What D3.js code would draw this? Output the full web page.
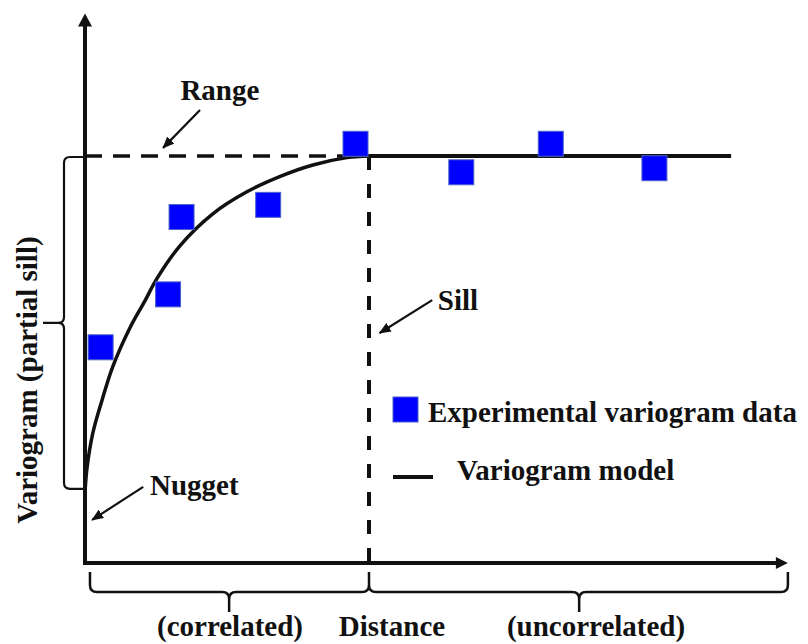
<!DOCTYPE html>
<html>
<head>
<meta charset="utf-8">
<script src="https://cdn.jsdelivr.net/npm/d3@7/dist/d3.min.js"></script>
<style>
  html, body { margin: 0; padding: 0; background: #fff; }
</style>
</head>
<body>
<svg id="chart"></svg>
<script>
// experimental variogram (lag distance, semivariance; sill = 1)
const lagDistance = [0.22, 1.17, 1.36, 2.58, 3.81, 5.30, 6.56, 8.02];
const semivariance = [0.53, 0.66, 0.85, 0.88, 1.03, 0.96, 1.03, 0.97];

// fitted model
const modelDistance = [0, 0.03, 0.11, 0.24, 0.39, 0.63, 0.85, 1.01, 1.34, 1.80, 2.28, 2.75, 3.21, 3.69, 4.0, 9.1];
const modelGamma = [0.175, 0.236, 0.319, 0.400, 0.482, 0.577, 0.646, 0.698, 0.780, 0.858, 0.912, 0.950, 0.978, 0.996, 1.0, 1.0];

const rangeDist = 4.0;
const sill = 1.0;
const nugget = 0.175;
const xEnd = 9.9;
const yEnd = 1.35;

const legendLabels = ["Experimental variogram data", "Variogram model"];
const bottomLabels = ["(correlated)", "Distance", "(uncorrelated)"];
const yLabel = "Variogram (partial sill)";

const width = 808, height = 644;
const svg = d3.select("#chart").attr("width", width).attr("height", height)
    .attr("font-family", "'Liberation Serif', 'Times New Roman', Tinos, 'DejaVu Serif', serif")
    .attr("font-weight", "bold");

const x = d3.scaleLinear().domain([0, 10]).range([85, 795]);
const y = d3.scaleLinear().domain([0, 1]).range([563, 156]);

const defs = svg.append("defs");
defs.append("marker")
    .attr("id", "head")
    .attr("markerUnits", "userSpaceOnUse")
    .attr("markerWidth", 12).attr("markerHeight", 10)
    .attr("refX", 11).attr("refY", 5)
    .attr("orient", "auto")
    .append("path").attr("d", "M0,0L12,5L0,10Z").attr("fill", "#111");

// axes with arrow heads
const x0 = x(0), y0 = y(0);
svg.append("line")
    .attr("x1", x0).attr("y1", y0 + 2).attr("x2", x0).attr("y2", y(yEnd) + 10)
    .attr("stroke", "#111").attr("stroke-width", 4);
svg.append("path")
    .attr("d", `M${x0},${y(yEnd)}L${x0 - 7},${y(yEnd) + 13}L${x0 + 7},${y(yEnd) + 13}Z`)
    .attr("fill", "#111");
svg.append("line")
    .attr("x1", x0 - 2).attr("y1", y0).attr("x2", x(xEnd) - 8).attr("y2", y0)
    .attr("stroke", "#111").attr("stroke-width", 4);
svg.append("path")
    .attr("d", `M${x(xEnd)},${y0}L${x(xEnd) - 12},${y0 - 6}L${x(xEnd) - 12},${y0 + 6}Z`)
    .attr("fill", "#111");

// range / sill guides
svg.append("line")
    .attr("x1", x0).attr("y1", y(sill)).attr("x2", x(rangeDist)).attr("y2", y(sill))
    .attr("stroke", "#111").attr("stroke-width", 3.5).attr("stroke-dasharray", "17,11");
svg.append("line")
    .attr("x1", x(rangeDist)).attr("y1", y(sill)).attr("x2", x(rangeDist)).attr("y2", y0)
    .attr("stroke", "#111").attr("stroke-width", 4).attr("stroke-dasharray", "14,14");

// model curve: smooth rise up to the range, then flat at the sill
const model = modelDistance.map((d, i) => [d, modelGamma[i]]);
const rising = model.filter(d => d[0] <= rangeDist);
const flat = model.filter(d => d[0] >= rangeDist);
svg.append("path")
    .datum(rising)
    .attr("fill", "none")
    .attr("stroke", "#111")
    .attr("stroke-width", 3.5)
    .attr("d", d3.line().x(d => x(d[0])).y(d => y(d[1])).curve(d3.curveCatmullRom.alpha(0.5)));
svg.append("path")
    .datum(flat)
    .attr("fill", "none")
    .attr("stroke", "#111")
    .attr("stroke-width", 4)
    .attr("d", d3.line().x(d => x(d[0])).y(d => y(d[1])));

// experimental points
const sq = 25;
svg.selectAll("rect.pt")
    .data(lagDistance.map((d, i) => [d, semivariance[i]]))
    .join("rect")
    .attr("class", "pt")
    .attr("x", d => x(d[0]) - sq / 2)
    .attr("y", d => y(d[1]) - sq / 2)
    .attr("width", sq).attr("height", sq)
    .attr("fill", "#0000fe")
    .attr("stroke", "#4a63c8").attr("stroke-width", 1);

// left brace (partial sill)
const bTop = y(sill) + 1, bBot = y(nugget) - 3, bMid = (bTop + bBot) / 2;
const sx = 64;
svg.append("path")
    .attr("d", `M${x0},${bTop}L${sx + 6},${bTop}Q${sx},${bTop} ${sx},${bTop + 6}` +
               `L${sx},${bMid - 6}Q${sx},${bMid} ${sx - 6},${bMid}L43,${bMid}` +
               `M${sx - 6},${bMid}Q${sx},${bMid} ${sx},${bMid + 6}` +
               `L${sx},${bBot - 6}Q${sx},${bBot} ${sx + 6},${bBot}L${x0 - 2},${bBot}`)
    .attr("fill", "none").attr("stroke", "#111").attr("stroke-width", 2.2);

// bottom braces
function hBrace(xa, xb, xm) {
    const ys = 592, ye = 572, yt = 612, r = 7;
    return `M${xa},${ye}L${xa},${ys - r}Q${xa},${ys} ${xa + r},${ys}L${xm - r},${ys}Q${xm},${ys} ${xm},${ys + r}L${xm},${yt}` +
           `M${xm},${ys + r}Q${xm},${ys} ${xm + r},${ys}L${xb - r},${ys}Q${xb},${ys} ${xb},${ys - r}L${xb},${ye}`;
}
svg.append("path")
    .attr("d", hBrace(x(0.07), x(rangeDist), x(2.03)) + hBrace(x(rangeDist), x(xEnd), x(6.96)))
    .attr("fill", "none").attr("stroke", "#111").attr("stroke-width", 2.5);

// annotations
const fs = 29;
function note(label, tx, ty, ax1, ay1, ax2, ay2, anchor) {
    svg.append("text").attr("x", x(tx)).attr("y", y(ty))
        .attr("text-anchor", anchor).attr("font-size", fs).attr("fill", "#111").text(label);
    svg.append("line")
        .attr("x1", x(ax1)).attr("y1", y(ay1)).attr("x2", x(ax2)).attr("y2", y(ay2))
        .attr("stroke", "#111").attr("stroke-width", 2.2)
        .attr("marker-end", "url(#head)");
}
note("Range", 1.90, 1.138, 1.62, 1.113, 1.10, 1.020, "middle");
note("Sill", 4.97, 0.622, 4.89, 0.646, 4.15, 0.565, "start");
note("Nugget", 0.915, 0.167, 0.82, 0.187, 0.10, 0.106, "start");

// legend
svg.append("rect").attr("x", 393).attr("y", 397).attr("width", sq).attr("height", sq)
    .attr("fill", "#0000fe").attr("stroke", "#4a63c8").attr("stroke-width", 1);
svg.append("text").attr("x", 428).attr("y", 422).attr("font-size", fs).attr("fill", "#111").text(legendLabels[0]);
svg.append("line").attr("x1", 393).attr("x2", 433).attr("y1", 477).attr("y2", 477)
    .attr("stroke", "#111").attr("stroke-width", 4);
svg.append("text").attr("x", 457).attr("y", 480).attr("font-size", fs).attr("fill", "#111").text(legendLabels[1]);

// axis labels
const bx = [230, 392, 596];
bottomLabels.forEach((t, i) => {
    svg.append("text").attr("x", bx[i]).attr("y", 636).attr("text-anchor", "middle")
        .attr("font-size", fs).attr("fill", "#111").text(t);
});
svg.append("text").attr("transform", "translate(37,380) rotate(-90)")
    .attr("text-anchor", "middle").attr("font-size", fs).attr("fill", "#111").text(yLabel);
</script>
</body>
</html>
